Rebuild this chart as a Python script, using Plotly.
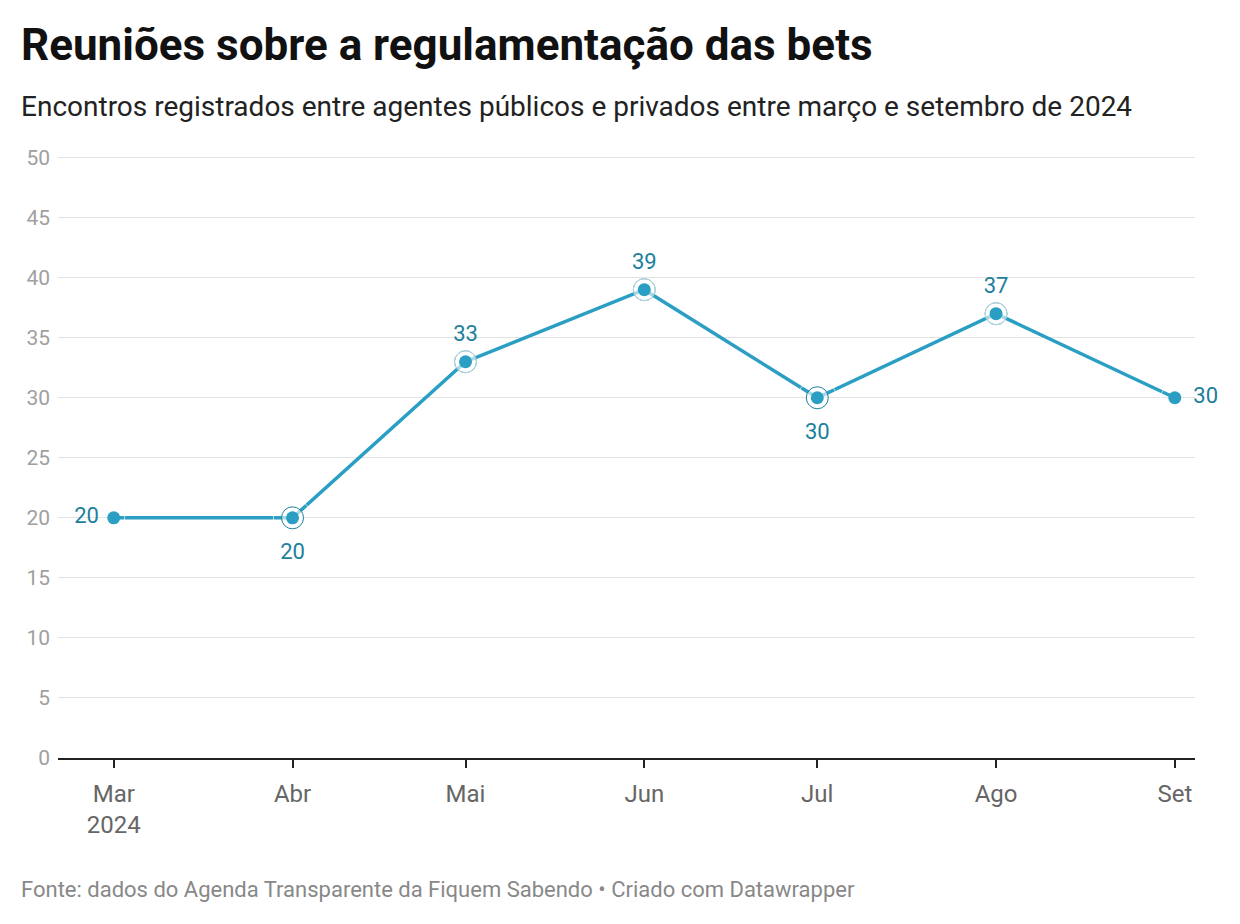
import plotly.graph_objects as go

months = ["2024-03-01", "2024-04-01", "2024-05-01", "2024-06-01", "2024-07-01", "2024-08-01", "2024-09-01"]
month_labels = ["Mar<br>2024", "Abr", "Mai", "Jun", "Jul", "Ago", "Set"]
values = [20, 20, 33, 39, 30, 37, 30]
label_positions = ["middle left", "bottom center", "top center", "top center", "bottom center", "top center", "middle right"]
y_ticks = [0, 5, 10, 15, 20, 25, 30, 35, 40, 45, 50]

LINE = "#2a9fc3"
LABEL = "#1c7f9c"
FONT = "Roboto"

# page offset in the screenshot (body margin)
OX, OY = 8, 8
L, R, T, B = 58 - OX, 45 + OX, 154 - OY, 166 + OY
PW = 1240 - L - R
PH = 924 - T - B


def px_x(x):
    return (x - OX - L) / PW


def px_y(y):
    return 1 - (y - OY - T) / PH


# spacing of value labels from their points, per label position
gap = {"middle left": 22, "middle right": 28, "top center": 22, "bottom center": 38}
label_sizes = [gap[p] for p in label_positions]

fig = go.Figure()

fig.add_trace(go.Scatter(
    x=months, y=values, mode="lines",
    line=dict(color=LINE, width=3.5),
    hoverinfo="skip", showlegend=False,
))

# rings around inner points
fig.add_trace(go.Scatter(
    x=months[1:-1], y=values[1:-1], mode="markers",
    marker=dict(size=22, color="rgba(255,255,255,0.6)", line=dict(color=LABEL, width=1)),
    hoverinfo="skip", showlegend=False, cliponaxis=False,
))

fig.add_trace(go.Scatter(
    x=months, y=values, mode="markers",
    marker=dict(size=13, color=LINE),
    showlegend=False, cliponaxis=False,
))

# value labels
fig.add_trace(go.Scatter(
    x=months, y=values, mode="markers+text",
    marker=dict(size=label_sizes, color="rgba(0,0,0,0)"),
    text=[str(v) for v in values],
    textposition=label_positions,
    textfont=dict(family=FONT, size=22, color=LABEL),
    hoverinfo="skip", showlegend=False, cliponaxis=False,
))

fig.update_layout(
    width=1240, height=924,
    margin=dict(l=L, r=R, t=T, b=B),
    paper_bgcolor="white", plot_bgcolor="white",
    font=dict(family=FONT, color="#666666"),
    xaxis=dict(
        type="date",
        range=["2024-02-20 08:00", "2024-09-04 12:00"],
        tickvals=months, ticktext=month_labels,
        showgrid=False, zeroline=False,
        showline=True, linecolor="#222222", linewidth=2,
        ticks="outside", ticklen=8, tickwidth=2, tickcolor="#222222",
        tickfont=dict(family=FONT, size=24, color="#666666"),
        ticklabelstandoff=5,
        fixedrange=True,
    ),
    yaxis=dict(
        range=[0, 50.3],
        tickvals=y_ticks,
        showgrid=True, gridcolor="#e2e2e2", gridwidth=1,
        zeroline=False, showline=False,
        tickfont=dict(family=FONT, size=21, color="#a0a0a0"),
        ticklabelstandoff=7,
        fixedrange=True,
    ),
    annotations=[
        dict(text="<b>Reuniões sobre a regulamentação das bets</b>", xref="paper", yref="paper",
             x=px_x(19), y=px_y(45), xanchor="left", yanchor="middle",
             showarrow=False, font=dict(family=FONT, size=44, color="#111111")),
        dict(text="Encontros registrados entre agentes públicos e privados entre março e setembro de 2024",
             xref="paper", yref="paper",
             x=px_x(19), y=px_y(106), xanchor="left", yanchor="middle",
             showarrow=False, font=dict(family=FONT, size=28, color="#222222")),
        dict(text="Fonte: dados do Agenda Transparente da Fiquem Sabendo • Criado com Datawrapper",
             xref="paper", yref="paper",
             x=px_x(19), y=px_y(889), xanchor="left", yanchor="middle",
             showarrow=False, font=dict(family=FONT, size=22, color="#888888")),
    ],
)

fig.write_html("out.html")
